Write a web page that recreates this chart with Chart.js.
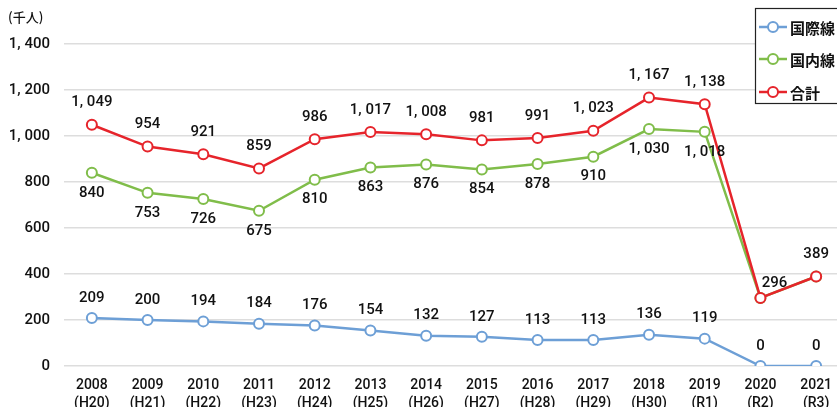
<!DOCTYPE html>
<html><head><meta charset="utf-8">
<script src="https://cdn.jsdelivr.net/npm/chart.js@4/dist/chart.umd.min.js"></script>
<style>
html,body{margin:0;padding:0;background:#fff;overflow:hidden;}
#wrap{width:837px;height:407px;overflow:hidden;position:relative;}
#c{position:absolute;left:0;top:0;}
</style></head>
<body><div id="wrap"><canvas id="c" width="851" height="407" style="width:851px;height:407px"></canvas></div>
<script>
const years = ["2008","2009","2010","2011","2012","2013","2014","2015","2016","2017","2018","2019","2020","2021"];
const eras = ["(H20)","(H21)","(H22)","(H23)","(H24)","(H25)","(H26)","(H27)","(H28)","(H29)","(H30)","(R1)","(R2)","(R3)"];
const international = [209,200,194,184,176,154,132,127,113,113,136,119,0,0];
const domestic = [840,753,726,675,810,863,876,854,878,910,1030,1018,296,389];
const total = [1049,954,921,859,986,1017,1008,981,991,1023,1167,1138,296,389];
const domesticHiddenLabels = [12,13];
const seriesNames = ["国際線","国内線","合計"];
const yTicks = [0,200,400,600,800,1000,1200,1400];
const unitLabel = "(千人)";

const FONT = "'Noto Sans CJK JP','Noto Sans',sans-serif";
const NUMFONT = "'Roboto','Noto Sans CJK JP',sans-serif";
const fmt = v => v.toLocaleString('en-US').replace(',', ', ');

const labelPlugin = {
  id:'labels',
  afterDatasetsDraw(chart){
    const ctx = chart.ctx;
    ctx.save();
    ctx.font = "500 15px " + NUMFONT;
    ctx.fillStyle = "#111";
    ctx.textAlign = "center";
    ctx.textBaseline = "middle";
    chart.data.datasets.forEach((ds,di)=>{
      const meta = chart.getDatasetMeta(di);
      meta.data.forEach((pt,i)=>{
        let dx=0, dy;
        if(di===1){ if(domesticHiddenLabels.includes(i)) return; dy = 20; }
        else if(di===0){ dy = -20; }
        else { dy = -22; if(i===12){dx=14;dy=-15;} }
        ctx.fillText(fmt(ds.data[i]), pt.x+dx, pt.y+dy);
      });
    });
    // unit
    ctx.font = "500 13px " + FONT;
    ctx.textAlign = "left";
    ctx.fillText(unitLabel, 8, 17);
    // legend
    const lx=755, ly=8, lw=100, lh=95;
    ctx.strokeStyle="#222"; ctx.lineWidth=1.2;
    ctx.fillStyle="#fff";
    ctx.fillRect(lx,ly,lw,lh);
    ctx.strokeRect(lx+0.5,ly+0.5,lw,lh);
    const rows=[27,59,92];
    chart.data.datasets.forEach((ds,di)=>{
      const y=rows[di];
      ctx.strokeStyle=ds.borderColor; ctx.lineWidth=2.5;
      ctx.beginPath(); ctx.moveTo(759,y); ctx.lineTo(787,y); ctx.stroke();
      ctx.beginPath(); ctx.arc(773,y,5,0,Math.PI*2);
      ctx.fillStyle="#fff"; ctx.fill(); ctx.lineWidth=2; ctx.stroke();
      ctx.fillStyle="#111"; ctx.font="bold 15px "+FONT;
      ctx.textAlign="left"; ctx.textBaseline="middle";
      ctx.fillText(ds.label, 790, y+1);
    });
    ctx.restore();
  }
};

const mk = (label,data,color,order)=>({
  label, data, borderColor:color, backgroundColor:'#fff', order,
  borderWidth:2.5, pointRadius:5, pointBorderWidth:2,
  pointBackgroundColor:'#fff', pointBorderColor:color, tension:0
});

new Chart(document.getElementById('c'),{
  type:'line',
  data:{
    labels: years.map((y,i)=>[y, eras[i]]),
    datasets:[
      mk(seriesNames[0], international, '#6d9fd6', 2),
      mk(seriesNames[1], domestic, '#80bd4a', 1),
      mk(seriesNames[2], total, '#e6242b', 0)
    ]
  },
  options:{
    responsive:false, animation:false, devicePixelRatio:1,
    layout:{padding:{top:44,left:0,right:0,bottom:0}},
    plugins:{legend:{display:false}, tooltip:{enabled:false}},
    scales:{
      x:{
        offset:true,
        grid:{display:false},
        border:{display:false},
        afterFit(s){ s.height = 41; },
        ticks:{color:'#111', font:{family:NUMFONT, size:14, weight:'500', lineHeight:1.3}, maxRotation:0, autoSkip:false, padding:2}
      },
      y:{
        min:0, max:1400,
        afterFit(s){ s.width = 64; },
        afterBuildTicks(s){ s.ticks = yTicks.map(v=>({value:v})); },
        grid:{color:'#dddddd', lineWidth:1.5, drawTicks:true, tickLength:12, tickColor:'#fff'},
        border:{display:false},
        ticks:{color:'#111', font:{family:NUMFONT, size:15, weight:'500'}, padding:2, callback:v=>fmt(v)}
      }
    }
  },
  plugins:[labelPlugin]
});
</script></body></html>
